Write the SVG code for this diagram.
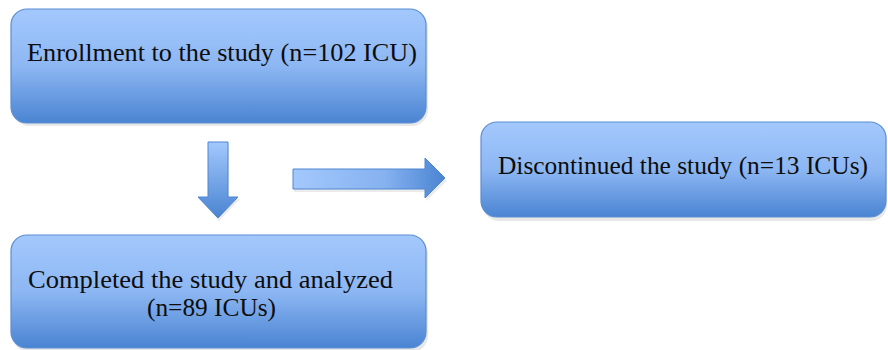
<svg xmlns="http://www.w3.org/2000/svg" width="888" height="350" viewBox="0 0 888 350">
<style>
.box{fill:url(#g);stroke:#5b8ed2;stroke-width:1.2}
.sh{fill:#d8d8d8;opacity:0.6}
.t{font-family:"Liberation Serif","DejaVu Serif",serif;font-size:25px;fill:#0d0d0d}
.arr{fill:url(#ga);stroke:#4f86cf;stroke-width:1}
</style>
<defs>
<linearGradient id="g" x1="0" y1="0" x2="0" y2="1">
<stop offset="0" stop-color="#a3c8fd"/>
<stop offset="0.5" stop-color="#8db7f3"/>
<stop offset="1" stop-color="#4a84d2"/>
</linearGradient>
<linearGradient id="ga" x1="0" y1="0" x2="0" y2="1">
<stop offset="0" stop-color="#a3c8fd"/>
<stop offset="1" stop-color="#4a84d2"/>
</linearGradient>
<linearGradient id="gh" x1="0" y1="0" x2="1" y2="0">
<stop offset="0" stop-color="#a3c8fd"/>
<stop offset="0.6" stop-color="#86b2f0"/>
<stop offset="1" stop-color="#4a84d2"/>
</linearGradient>
</defs>
<g id="enroll">
<rect class="sh" x="13" y="12" width="415" height="114" rx="16"/>
<rect class="box" x="11" y="9" width="415" height="114" rx="16"/>
<text class="t" x="27" y="61" textLength="390" lengthAdjust="spacingAndGlyphs">Enrollment to the study (n=102 ICU)</text>
</g>
<g id="discontinued">
<rect class="sh" x="483" y="125" width="404" height="96" rx="16"/>
<rect class="box" x="481" y="122" width="405" height="95" rx="16"/>
<text class="t" x="498" y="174" textLength="370" lengthAdjust="spacingAndGlyphs">Discontinued the study (n=13 ICUs)</text>
</g>
<g id="completed">
<rect class="sh" x="13" y="238" width="415" height="114" rx="16"/>
<rect class="box" x="11" y="235" width="415" height="113" rx="16"/>
<text class="t" x="28" y="288" textLength="365" lengthAdjust="spacingAndGlyphs">Completed the study and analyzed</text>
<text class="t" x="147" y="316" textLength="129" lengthAdjust="spacingAndGlyphs">(n=89 ICUs)</text>
</g>
<g id="connectors">
<path d="M209,145 L229,145 L229,199 L240,199 L219,221 L199,199 L209,199 Z" fill="#e2e2e2" opacity="0.7"/>
<path class="arr" d="M208,142 L228,142 L228,197 L238,197 L218,218 L198,197 L208,197 Z"/>
<path d="M294,172 L426,172 L426,161 L447,181 L426,201 L426,192 L294,192 Z" fill="#e2e2e2" opacity="0.7"/>
<path d="M293,169 L425,169 L425,158 L445,178 L425,198 L425,189 L293,189 Z" fill="url(#gh)" stroke="#4f86cf" stroke-width="1"/>
</g>
</svg>
